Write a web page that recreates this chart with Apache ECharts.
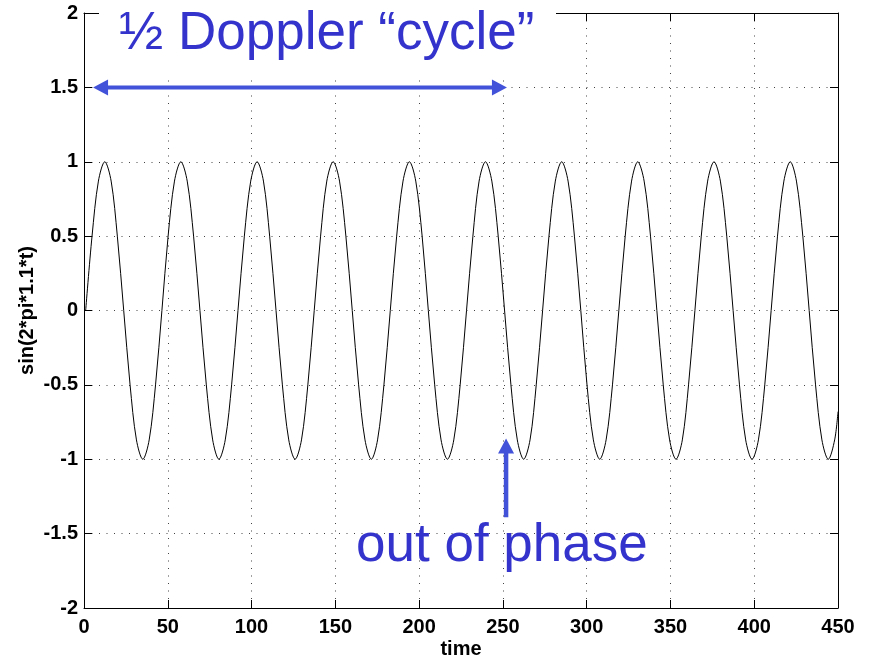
<!DOCTYPE html>
<html><head><meta charset="utf-8">
<script src="https://cdn.jsdelivr.net/npm/echarts@6/dist/echarts.min.js"></script>
<style>html,body{margin:0;padding:0;background:#fff}#c{width:871px;height:657px}</style>
</head><body><div id="c"></div>
<script>
// sample times (x)
const timeValues = [
  1.0, 4.8, 8.6, 12.4, 16.2, 19.9, 23.7, 27.5, 31.3, 35.1, 38.9, 42.7,
  46.5, 50.2, 54.0, 57.8, 61.6, 65.4, 69.2, 73.0, 76.8, 80.5, 84.3, 88.1,
  91.9, 95.7, 99.5, 103.3, 107.1, 110.8, 114.6, 118.4, 122.2, 126.0, 129.8, 133.6,
  137.4, 141.2, 144.9, 148.7, 152.5, 156.3, 160.1, 163.9, 167.7, 171.5, 175.2, 179.0,
  182.8, 186.6, 190.4, 194.2, 198.0, 201.8, 205.5, 209.3, 213.1, 216.9, 220.7, 224.5,
  228.3, 232.1, 235.8, 239.6, 243.4, 247.2, 251.0, 254.8, 258.6, 262.4, 266.2, 269.9,
  273.7, 277.5, 281.3, 285.1, 288.9, 292.7, 296.5, 300.2, 304.0, 307.8, 311.6, 315.4,
  319.2, 323.0, 326.8, 330.5, 334.3, 338.1, 341.9, 345.7, 349.5, 353.3, 357.1, 360.8,
  364.6, 368.4, 372.2, 376.0, 379.8, 383.6, 387.4, 391.2, 394.9, 398.7, 402.5, 406.3,
  410.1, 413.9, 417.7, 421.5, 425.2, 429.0, 432.8, 436.6, 440.4, 444.2, 448.0, 450.0
];
// curve values read at those times
const sineValues = [
  0, 0.5, 0.87, 1, 0.87, 0.5, 0, -0.5, -0.87, -1, -0.87, -0.5,
  0, 0.5, 0.87, 1, 0.87, 0.5, 0, -0.5, -0.87, -1, -0.87, -0.5,
  0, 0.5, 0.87, 1, 0.87, 0.5, 0, -0.5, -0.87, -1, -0.87, -0.5,
  0, 0.5, 0.87, 1, 0.87, 0.5, 0, -0.5, -0.87, -1, -0.87, -0.5,
  0, 0.5, 0.87, 1, 0.87, 0.5, 0, -0.5, -0.87, -1, -0.87, -0.5,
  0, 0.5, 0.87, 1, 0.87, 0.5, 0, -0.5, -0.87, -1, -0.87, -0.5,
  0, 0.5, 0.87, 1, 0.87, 0.5, 0, -0.5, -0.87, -1, -0.87, -0.5,
  0, 0.5, 0.87, 1, 0.87, 0.5, 0, -0.5, -0.87, -1, -0.87, -0.5,
  0, 0.5, 0.87, 1, 0.87, 0.5, 0, -0.5, -0.87, -1, -0.87, -0.5,
  0, 0.5, 0.87, 1, 0.87, 0.5, 0, -0.5, -0.87, -1, -0.87, -0.68
];
const xRange = [0, 450], xStep = 50;
const yRange = [-2, 2], yStep = 0.5;
const xName = 'time';
const yName = 'sin(2*pi*1.1*t)';
const titleText = '½ Doppler “cycle”';
const noteText = 'out of phase';
// annotation arrows in data coordinates
const arrowCycle = { from: [5.4, 1.5], to: [252.4, 1.5] };   // double headed
const arrowPhase = { tail: [251.9, -1.39], tip: [251.9, -0.86] };

const FONT = '"Liberation Sans", Arial, Helvetica, sans-serif';
const BLUE_TEXT = '#3434cc';
const BLUE_ARROW = '#4252d9';

const chart = echarts.init(document.getElementById('c'), null, { renderer: 'canvas' });
const axisLabelStyle = { fontFamily: FONT, fontWeight: 'bold', fontSize: 20, color: '#000' };
const gridDots = { show: true, lineStyle: { color: '#444', width: 1, type: [1, 6.5] } };
const tickStyle = { show: true, inside: true, length: 8, lineStyle: { color: '#000' } };
const lineAxis = { show: true, onZero: false, lineStyle: { color: '#000', width: 1 } };

const option = {
  animation: false,
  backgroundColor: '#fff',
  grid: { left: 84, right: 33, top: 13, bottom: 49, containLabel: false, outerBoundsMode: 'none' },
  xAxis: [{
    type: 'value', min: xRange[0], max: xRange[1], interval: xStep, position: 'bottom',
    axisLine: lineAxis, axisTick: tickStyle,
    axisLabel: Object.assign({ margin: 9 }, axisLabelStyle),
    splitLine: gridDots,
    name: xName, nameLocation: 'middle', nameGap: 31, nameMoveOverlap: false,
    nameTextStyle: { fontFamily: FONT, fontWeight: 'bold', fontSize: 20, color: '#000' }
  }, {
    type: 'value', min: xRange[0], max: xRange[1], interval: xStep, position: 'top',
    axisLine: lineAxis, axisTick: tickStyle,
    axisLabel: { show: false }, splitLine: { show: false }
  }],
  yAxis: [{
    type: 'value', min: yRange[0], max: yRange[1], interval: yStep, position: 'left',
    axisLine: lineAxis, axisTick: tickStyle,
    axisLabel: Object.assign({ margin: 6 }, axisLabelStyle),
    splitLine: gridDots,
    name: yName, nameLocation: 'middle', nameGap: 47, nameMoveOverlap: false,
    nameTextStyle: { fontFamily: FONT, fontWeight: 'bold', fontSize: 20, color: '#000' }
  }, {
    type: 'value', min: yRange[0], max: yRange[1], interval: yStep, position: 'right',
    axisLine: lineAxis, axisTick: tickStyle,
    axisLabel: { show: false }, splitLine: { show: false }
  }],
  series: [{
    type: 'line', xAxisIndex: 0, yAxisIndex: 0,
    data: timeValues.map((t, i) => [t, sineValues[i]]),
    showSymbol: false, smooth: 0.33,
    lineStyle: { color: '#000', width: 1 }, z: 3
  }]
};
chart.setOption(option);

function px(p) { return chart.convertToPixel({ xAxisIndex: 0, yAxisIndex: 0 }, p); }
function arrowHead(tip, dir, len, half) {
  const nx = -dir[1], ny = dir[0];
  const bx = tip[0] - dir[0] * len, by = tip[1] - dir[1] * len;
  return { type: 'polygon', z: 60, shape: { points: [tip, [bx + nx * half, by + ny * half], [bx - nx * half, by - ny * half]] }, style: { fill: BLUE_ARROW } };
}
const hA = px(arrowCycle.from), hB = px(arrowCycle.to);
const vT = px(arrowPhase.tail), vP = px(arrowPhase.tip);
const HL = 15, HW = 8;
const graphics = [
  { type: 'rect', z: 50, shape: { x: 99, y: 0, width: 457, height: 74 }, style: { fill: '#fff' } },
  { type: 'text', z: 61, x: 119, y: 34, style: { text: titleText, font: 'normal 53px ' + FONT, fill: BLUE_TEXT, verticalAlign: 'middle', align: 'left' } },
  { type: 'text', z: 61, x: 356, y: 546, style: { text: noteText, font: 'normal 53px ' + FONT, fill: BLUE_TEXT, verticalAlign: 'middle', align: 'left' } },
  { type: 'line', z: 60, shape: { x1: hA[0] + HL - 1, y1: hA[1], x2: hB[0] - HL + 1, y2: hB[1] }, style: { stroke: BLUE_ARROW, lineWidth: 4 } },
  arrowHead(hA, [-1, 0], HL, HW),
  arrowHead(hB, [1, 0], HL, HW),
  { type: 'line', z: 60, shape: { x1: vT[0], y1: vT[1], x2: vP[0], y2: vP[1] + HL - 1 }, style: { stroke: BLUE_ARROW, lineWidth: 4.5 } },
  arrowHead(vP, [0, -1], HL, HW)
];
chart.setOption({ graphic: graphics });
</script>
</body></html>
